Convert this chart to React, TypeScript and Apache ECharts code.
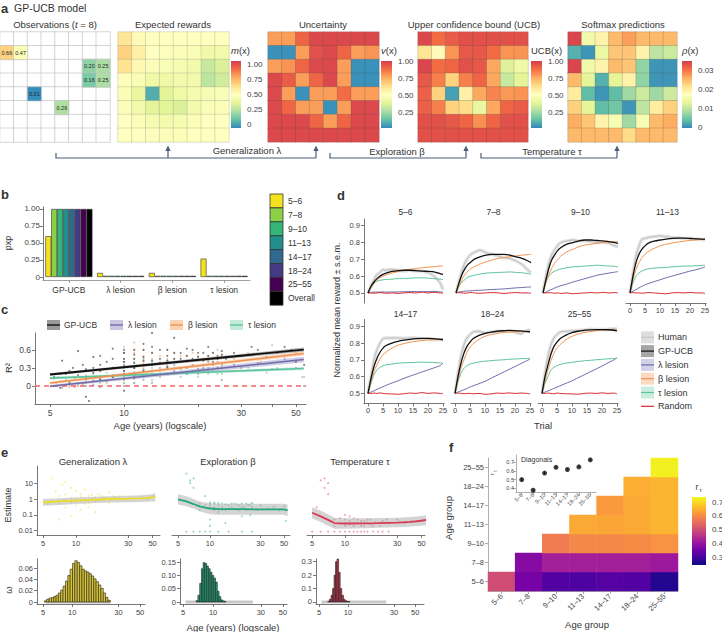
import React, { useEffect, useRef } from "react";
import * as echarts from "echarts";

const FONT = "Liberation Sans";
const INK = "#333";
const AXIS = "#555";

/* ---------------- panel a ---------------- */
const cellIds = ["0", "1", "2", "3", "4", "5", "6", "7"];
const observedCells = [
  [0, 1, 0.66], [1, 1, 0.47], [6, 2, 0.2], [7, 2, 0.25],
  [6, 3, 0.16], [7, 3, 0.25], [2, 4, 0.01], [4, 5, 0.26],
];
const expectedRewards = [
  [0.6, 0.52, 0.5, 0.5, 0.5, 0.5, 0.5, 0.5],
  [0.66, 0.56, 0.5, 0.49, 0.48, 0.47, 0.43, 0.44],
  [0.61, 0.53, 0.48, 0.47, 0.46, 0.44, 0.31, 0.35],
  [0.51, 0.47, 0.42, 0.43, 0.44, 0.44, 0.29, 0.33],
  [0.47, 0.4, 0.08, 0.37, 0.42, 0.45, 0.46, 0.47],
  [0.48, 0.44, 0.37, 0.37, 0.35, 0.44, 0.47, 0.48],
  [0.5, 0.48, 0.45, 0.44, 0.45, 0.48, 0.5, 0.5],
  [0.5, 0.5, 0.49, 0.48, 0.48, 0.5, 0.5, 0.5],
];
const uncertainty = [
  [0.78, 0.78, 0.9, 0.97, 0.97, 0.97, 0.97, 0.97],
  [0.02, 0.02, 0.78, 0.95, 0.97, 0.9, 0.78, 0.8],
  [0.78, 0.8, 0.9, 0.97, 0.97, 0.78, 0.02, 0.02],
  [0.97, 0.92, 0.78, 0.9, 0.97, 0.78, 0.02, 0.02],
  [0.97, 0.78, 0.02, 0.78, 0.78, 0.88, 0.78, 0.78],
  [0.97, 0.9, 0.78, 0.78, 0.02, 0.78, 0.97, 0.97],
  [0.97, 0.97, 0.97, 0.9, 0.78, 0.9, 0.97, 0.97],
  [0.97, 0.97, 0.97, 0.97, 0.97, 0.97, 0.97, 0.97],
];
const ucbValues = [
  [0.97, 0.88, 0.92, 0.95, 0.95, 0.95, 0.95, 0.95],
  [0.6, 0.52, 0.8, 0.93, 0.93, 0.88, 0.8, 0.8],
  [0.98, 0.88, 0.9, 0.95, 0.93, 0.76, 0.36, 0.42],
  [0.93, 0.84, 0.66, 0.84, 0.9, 0.76, 0.31, 0.38],
  [0.91, 0.66, 0.05, 0.56, 0.76, 0.83, 0.79, 0.8],
  [0.91, 0.84, 0.66, 0.63, 0.4, 0.76, 0.9, 0.92],
  [0.95, 0.95, 0.93, 0.9, 0.81, 0.9, 0.95, 0.95],
  [0.95, 0.95, 0.95, 0.95, 0.95, 0.95, 0.95, 0.95],
];
const softmaxValues = [
  [0.034, 0.015, 0.019, 0.025, 0.027, 0.025, 0.025, 0.025],
  [0.003, 0.001, 0.014, 0.024, 0.024, 0.019, 0.01, 0.011],
  [0.034, 0.015, 0.019, 0.025, 0.024, 0.007, 0.001, 0.001],
  [0.025, 0.013, 0.003, 0.013, 0.019, 0.007, 0.001, 0.001],
  [0.02, 0.004, 0.001, 0.004, 0.008, 0.011, 0.008, 0.011],
  [0.023, 0.013, 0.004, 0.005, 0.001, 0.01, 0.02, 0.023],
  [0.026, 0.024, 0.019, 0.016, 0.008, 0.016, 0.025, 0.026],
  [0.025, 0.025, 0.025, 0.025, 0.022, 0.025, 0.025, 0.025],
];
const mTicks = [0, 0.25, 0.5, 0.75, 1];
const vTicks = [0.25, 0.5, 0.75, 1];
const rhoTicks = [0, 0.01, 0.02, 0.03];

/* ---------------- panel b ---------------- */
const pxpModels = ["GP-UCB", "λ lesion", "β lesion", "τ lesion"];
const pxpGroups = ["5–6", "7–8", "9–10", "11–13", "14–17", "18–24", "25–55", "Overall"];
const pxpValues = [
  [0.6, 0.06, 0.06, 0.27],
  [1, 0, 0, 0],
  [1, 0, 0, 0],
  [1, 0, 0, 0],
  [1, 0, 0, 0],
  [1, 0, 0, 0],
  [1, 0, 0, 0],
  [1, 0, 0, 0],
];
const pxpTicks = [0, 0.25, 0.5, 0.75, 1];

/* ---------------- panel c ---------------- */
const cAgeLabels = [5, 10, 30, 50];
const cAgeTicks = [5, 10, 20, 30, 40, 50];
const cR2Ticks = [0, 0.3, 0.6];
const cFitAges = [5.0, 53.8];
const cFitGp = [0.19, 0.605];
const cFitGpSe = [0.022, 0.032];
const cFitLambda = [-0.005, 0.44];
const cFitLambdaSe = [0.02, 0.045];
const cFitBeta = [0.05, 0.54];
const cFitBetaSe = [0.02, 0.035];
const cFitTau = [0.13, 0.29];
const cFitTauSe = [0.018, 0.025];
const cPtsGp = [
  [5.2, 0.15], [5.5, -0.03], [5.6, 0.42], [5.8, 0.2], [6.0, 0.05], [6.2, 0.3], [6.5, 0.58], [6.5, 0.18],
  [6.8, 0.35], [7.0, -0.18], [7.0, 0.12], [7.0, 0.28], [7.2, -0.25], [7.5, 0.48], [7.5, 0.22], [8, 0.5],
  [8, 0.35], [8, 0.1], [8.5, 0.4], [9, 0.62], [9, 0.3], [9, 0.15], [10, 0.6], [10, 0.45], [10, 0.32],
  [10, 0.2], [10, -0.08], [11, 0.52], [11, 0.38], [11, 0.3], [11, 0.15], [12, 0.7], [12, 0.48], [12, 0.35],
  [12, 0.25], [13, 0.88], [13, 0.55], [13, 0.42], [14, 0.6], [14, 0.38], [15, 0.5], [15, 0.32], [16, 0.8],
  [16, 0.45], [17, 0.55], [18, 0.42], [19, 0.6], [20, 0.48], [21, 0.55], [22, 0.65], [23, 0.4], [24, 0.5],
  [25, 0.58], [26, 0.45], [28, 0.55], [30, 0.5], [33, 0.65], [35, 0.6], [38, 0.48], [42, 0.55], [45, 0.65],
  [48, 0.6], [50, 0.4], [54, 0.35],
  [10, 0.55], [10, 0.4], [10, 0.25], [11, 0.45], [11, 0.6], [12, 0.6], [12, 0.42], [13, 0.65], [13, 0.35],
  [14, 0.45], [15, 0.42], [15, 0.6], [16, 0.55], [17, 0.45], [18, 0.5], [18, 0.62], [19, 0.45], [20, 0.55],
  [21, 0.42], [22, 0.5], [23, 0.55], [24, 0.45], [25, 0.52], [7.5, 0.3], [8, 0.25], [9, 0.45], [6, 0.25], [5.5, 0.2],
];
const cPtsLambda = [
  [5.3, 0.0], [5.6, -0.03], [6, 0.02], [6.3, -0.02], [6.8, 0.05], [7, 0.0], [7.5, 0.08], [8, 0.12], [8, -0.02],
  [9, 0.15], [10, 0.25], [10, 0.1], [10, 0.0], [11, 0.3], [11, 0.12], [12, 0.35], [12, 0.18], [13, 0.25],
  [13, 0.05], [14, 0.3], [15, 0.2], [16, 0.35], [17, 0.22], [18, 0.3], [20, 0.28], [22, 0.4], [24, 0.3],
  [25, 0.1], [28, 0.35], [30, 0.3], [35, 0.38], [40, 0.28], [45, 0.45], [50, 0.3], [54, 0.0],
  [10, 0.35], [10, 0.18], [11, 0.22], [11, 0.05], [12, 0.28], [12, 0.1], [13, 0.35], [14, 0.2], [15, 0.3],
  [16, 0.25], [17, 0.3], [18, 0.2], [19, 0.35], [20, 0.2], [21, 0.3], [22, 0.25], [23, 0.35], [24, 0.4],
  [25, 0.3], [6.5, 0.01], [7.5, 0.02], [8.5, 0.08],
];
const cPtsBeta = [
  [5.3, 0.05], [5.5, 0.08], [6, -0.02], [6.3, 0.12], [6.8, 0.02], [7, 0.18], [7.5, 0.1], [8, 0.25], [8.5, 0.05],
  [9, 0.3], [10, 0.65], [10, 0.45], [10, 0.2], [10, 0.05], [11, 0.55], [11, 0.3], [12, 0.6], [12, 0.4],
  [13, 0.45], [13, 0.2], [14, 0.5], [15, 0.35], [16, 0.55], [17, 0.4], [18, 0.5], [20, 0.42], [22, 0.5],
  [24, 0.6], [25, 0.35], [28, 0.45], [32, 0.55], [36, 0.4], [40, 0.68], [45, 0.5], [50, 0.55], [54, 0.15],
  [10, 0.55], [10, 0.35], [11, 0.6], [11, 0.45], [11, 0.2], [12, 0.5], [12, 0.3], [13, 0.55], [13, 0.35],
  [14, 0.4], [15, 0.45], [15, 0.6], [16, 0.45], [17, 0.5], [18, 0.4], [19, 0.55], [20, 0.5], [21, 0.45],
  [22, 0.42], [23, 0.55], [24, 0.45], [25, 0.5], [7, 0.05], [6.5, 0.0], [8, 0.15],
];
const cPtsTau = [
  [5.2, 0.12], [5.4, 0.15], [5.8, 0.1], [6, 0.08], [6.5, 0.05], [7, 0.15], [7.5, 0.2], [8, 0.12], [8.5, 0.22],
  [9, 0.18], [10, 0.55], [10, 0.3], [10, 0.15], [11, 0.72], [11, 0.4], [11, 0.2], [12, 0.35], [12, 0.15],
  [13, 0.3], [13, 0.1], [14, 0.25], [15, 0.3], [16, 0.2], [17, 0.28], [18, 0.3], [20, 0.25], [22, 0.3],
  [24, 0.2], [25, 0.35], [28, 0.25], [32, 0.3], [38, 0.22], [42, 0.3], [48, 0.28], [53, 0.15],
  [10, 0.4], [10, 0.05], [11, 0.3], [11, 0.05], [12, 0.25], [12, 0.45], [13, 0.2], [13, 0.4], [14, 0.15],
  [15, 0.2], [15, 0.4], [16, 0.3], [17, 0.15], [18, 0.2], [19, 0.25], [20, 0.15], [21, 0.35], [22, 0.2],
  [23, 0.25], [24, 0.3], [25, 0.2], [7, 0.1], [8, 0.05],
];

/* ---------------- panel d ---------------- */
const dPanels = ["5–6", "7–8", "9–10", "11–13", "14–17", "18–24", "25–55"];
const dTrials = [0, 1, 2, 3, 4, 5, 6, 8, 10, 12, 14, 16, 18, 20, 22, 24, 25];
const dTrialTicks = [0, 5, 10, 15, 20, 25];
const dRewardTicks = [0.5, 0.6, 0.7, 0.8, 0.9];
const dHuman = [
  [0.5, 0.54, 0.58, 0.61, 0.62, 0.64, 0.635, 0.64, 0.635, 0.63, 0.635, 0.63, 0.63, 0.62, 0.6, 0.56, 0.52],
  [0.5, 0.57, 0.63, 0.68, 0.71, 0.73, 0.74, 0.755, 0.74, 0.73, 0.72, 0.71, 0.705, 0.69, 0.67, 0.635, 0.62],
  [0.5, 0.6, 0.68, 0.73, 0.76, 0.785, 0.8, 0.81, 0.815, 0.81, 0.81, 0.805, 0.8, 0.8, 0.795, 0.78, 0.775],
  [0.5, 0.62, 0.72, 0.78, 0.82, 0.825, 0.83, 0.835, 0.84, 0.835, 0.83, 0.828, 0.825, 0.825, 0.822, 0.818, 0.815],
  [0.5, 0.6, 0.7, 0.76, 0.8, 0.825, 0.83, 0.83, 0.83, 0.828, 0.83, 0.83, 0.825, 0.825, 0.82, 0.82, 0.82],
  [0.5, 0.62, 0.72, 0.79, 0.83, 0.85, 0.865, 0.87, 0.86, 0.865, 0.87, 0.87, 0.87, 0.865, 0.855, 0.875, 0.88],
  [0.5, 0.62, 0.72, 0.79, 0.83, 0.85, 0.865, 0.87, 0.872, 0.875, 0.878, 0.882, 0.88, 0.88, 0.882, 0.885, 0.885],
];
const dGpUcb = [
  [0.5, 0.54, 0.565, 0.585, 0.6, 0.61, 0.618, 0.628, 0.633, 0.635, 0.635, 0.633, 0.63, 0.628, 0.625, 0.615, 0.61],
  [0.5, 0.56, 0.61, 0.645, 0.67, 0.685, 0.7, 0.715, 0.725, 0.73, 0.73, 0.73, 0.725, 0.715, 0.705, 0.69, 0.68],
  [0.5, 0.58, 0.65, 0.7, 0.73, 0.755, 0.77, 0.79, 0.8, 0.81, 0.815, 0.815, 0.812, 0.81, 0.805, 0.8, 0.795],
  [0.5, 0.6, 0.68, 0.73, 0.76, 0.78, 0.795, 0.808, 0.815, 0.82, 0.825, 0.826, 0.826, 0.824, 0.822, 0.82, 0.82],
  [0.5, 0.59, 0.66, 0.71, 0.745, 0.77, 0.785, 0.8, 0.81, 0.817, 0.822, 0.826, 0.828, 0.828, 0.826, 0.822, 0.82],
  [0.5, 0.6, 0.68, 0.74, 0.78, 0.805, 0.825, 0.845, 0.858, 0.865, 0.87, 0.873, 0.875, 0.874, 0.872, 0.868, 0.866],
  [0.5, 0.6, 0.67, 0.735, 0.78, 0.805, 0.825, 0.847, 0.862, 0.87, 0.875, 0.878, 0.88, 0.88, 0.879, 0.876, 0.872],
];
const dBeta = [
  [0.5, 0.53, 0.555, 0.575, 0.59, 0.6, 0.607, 0.618, 0.627, 0.635, 0.64, 0.645, 0.65, 0.653, 0.656, 0.66, 0.66],
  [0.5, 0.54, 0.58, 0.61, 0.63, 0.645, 0.655, 0.672, 0.685, 0.695, 0.705, 0.71, 0.715, 0.72, 0.725, 0.728, 0.73],
  [0.5, 0.56, 0.61, 0.65, 0.68, 0.7, 0.72, 0.745, 0.76, 0.775, 0.785, 0.79, 0.795, 0.8, 0.802, 0.805, 0.805],
  [0.5, 0.58, 0.64, 0.68, 0.71, 0.73, 0.745, 0.765, 0.78, 0.79, 0.797, 0.803, 0.808, 0.812, 0.815, 0.818, 0.82],
  [0.5, 0.57, 0.63, 0.67, 0.705, 0.73, 0.745, 0.77, 0.787, 0.797, 0.805, 0.81, 0.815, 0.818, 0.82, 0.823, 0.825],
  [0.5, 0.58, 0.65, 0.7, 0.745, 0.775, 0.795, 0.822, 0.84, 0.85, 0.857, 0.862, 0.865, 0.867, 0.868, 0.869, 0.87],
  [0.5, 0.57, 0.64, 0.695, 0.74, 0.77, 0.79, 0.82, 0.84, 0.853, 0.862, 0.868, 0.873, 0.876, 0.878, 0.88, 0.88],
];
const dTau = [
  [0.5, 0.54, 0.56, 0.57, 0.575, 0.578, 0.58, 0.582, 0.585, 0.585, 0.587, 0.59, 0.59, 0.588, 0.585, 0.582, 0.58],
  [0.5, 0.54, 0.565, 0.58, 0.595, 0.6, 0.605, 0.612, 0.618, 0.62, 0.622, 0.623, 0.625, 0.622, 0.62, 0.615, 0.61],
  [0.5, 0.57, 0.6, 0.62, 0.63, 0.638, 0.643, 0.65, 0.655, 0.657, 0.66, 0.662, 0.665, 0.662, 0.66, 0.658, 0.655],
  [0.5, 0.56, 0.6, 0.62, 0.63, 0.638, 0.643, 0.648, 0.65, 0.652, 0.655, 0.657, 0.66, 0.66, 0.662, 0.664, 0.665],
  [0.5, 0.56, 0.61, 0.64, 0.655, 0.665, 0.67, 0.675, 0.68, 0.682, 0.684, 0.685, 0.686, 0.685, 0.684, 0.682, 0.68],
  [0.5, 0.57, 0.62, 0.65, 0.665, 0.675, 0.68, 0.687, 0.692, 0.695, 0.698, 0.7, 0.703, 0.705, 0.707, 0.708, 0.71],
  [0.5, 0.56, 0.6, 0.64, 0.655, 0.665, 0.672, 0.68, 0.685, 0.69, 0.694, 0.697, 0.7, 0.703, 0.706, 0.708, 0.71],
];
const dLambda = [
  [0.5, 0.503, 0.505, 0.505, 0.505, 0.506, 0.505, 0.505, 0.506, 0.507, 0.508, 0.508, 0.507, 0.508, 0.508, 0.506, 0.505],
  [0.5, 0.505, 0.508, 0.51, 0.512, 0.513, 0.514, 0.516, 0.518, 0.52, 0.522, 0.524, 0.527, 0.53, 0.532, 0.535, 0.535],
  [0.5, 0.505, 0.515, 0.522, 0.53, 0.537, 0.543, 0.553, 0.565, 0.575, 0.585, 0.595, 0.605, 0.612, 0.618, 0.624, 0.627],
  [0.5, 0.51, 0.52, 0.53, 0.54, 0.548, 0.555, 0.567, 0.578, 0.59, 0.6, 0.61, 0.62, 0.63, 0.638, 0.648, 0.655],
  [0.5, 0.508, 0.515, 0.525, 0.532, 0.54, 0.548, 0.562, 0.575, 0.59, 0.603, 0.615, 0.628, 0.64, 0.652, 0.665, 0.68],
  [0.5, 0.508, 0.515, 0.522, 0.53, 0.538, 0.545, 0.558, 0.572, 0.59, 0.608, 0.625, 0.643, 0.66, 0.678, 0.695, 0.705],
  [0.5, 0.508, 0.515, 0.522, 0.53, 0.538, 0.545, 0.56, 0.575, 0.593, 0.61, 0.628, 0.645, 0.663, 0.682, 0.7, 0.712],
];
const dRandom = [
  [0.5, 0.5, 0.498, 0.5, 0.502, 0.5, 0.498, 0.5, 0.497, 0.5, 0.502, 0.5, 0.505, 0.5, 0.503, 0.5, 0.498],
  [0.5, 0.502, 0.5, 0.498, 0.5, 0.503, 0.5, 0.498, 0.5, 0.502, 0.5, 0.497, 0.5, 0.502, 0.5, 0.5, 0.498],
  [0.5, 0.5, 0.502, 0.5, 0.498, 0.5, 0.497, 0.5, 0.495, 0.498, 0.5, 0.502, 0.5, 0.503, 0.5, 0.502, 0.5],
  [0.5, 0.502, 0.5, 0.5, 0.498, 0.5, 0.502, 0.5, 0.497, 0.495, 0.5, 0.502, 0.5, 0.503, 0.5, 0.5, 0.497],
  [0.5, 0.5, 0.502, 0.5, 0.503, 0.5, 0.498, 0.497, 0.495, 0.498, 0.502, 0.5, 0.505, 0.5, 0.503, 0.5, 0.498],
  [0.5, 0.502, 0.5, 0.498, 0.5, 0.5, 0.498, 0.5, 0.495, 0.497, 0.502, 0.5, 0.503, 0.5, 0.502, 0.5, 0.497],
  [0.5, 0.5, 0.502, 0.5, 0.498, 0.502, 0.5, 0.498, 0.497, 0.495, 0.5, 0.502, 0.5, 0.503, 0.5, 0.502, 0.498],
];

/* ---------------- panel e ---------------- */
const eAgeLabels = [5, 10, 30, 50];
const eEstTicks = [0.01, 0.1, 1, 10];
const eLambdaAges = [5, 7, 10, 15, 20, 30, 40, 50, 53];
const eLambdaFit = [0.6, 0.7, 0.8, 0.9, 1.0, 1.05, 1.1, 1.25, 1.4];
const eLambdaLo = [0.38, 0.42, 0.48, 0.55, 0.6, 0.62, 0.65, 0.7, 0.7];
const eLambdaHi = [1.0, 1.1, 1.25, 1.4, 1.5, 1.6, 1.7, 2.0, 2.3];
const eBetaAges = [5, 6, 7, 8, 9, 10, 12, 15, 20, 30, 40, 50, 54];
const eBetaFit = [0.95, 0.7, 0.48, 0.34, 0.28, 0.25, 0.23, 0.23, 0.23, 0.22, 0.22, 0.22, 0.19];
const eBetaLo = [0.45, 0.35, 0.25, 0.17, 0.13, 0.11, 0.1, 0.1, 0.1, 0.1, 0.1, 0.1, 0.08];
const eBetaHi = [2.0, 1.5, 1.0, 0.7, 0.6, 0.55, 0.5, 0.5, 0.5, 0.5, 0.5, 0.5, 0.45];
const eTauAges = [5, 6, 7, 8, 10, 15, 20, 30, 40, 50, 55];
const eTauFit = [0.135, 0.08, 0.048, 0.03, 0.028, 0.029, 0.03, 0.032, 0.036, 0.042, 0.047];
const eTauLo = [0.06, 0.035, 0.02, 0.013, 0.013, 0.014, 0.015, 0.016, 0.018, 0.02, 0.022];
const eTauHi = [0.3, 0.18, 0.11, 0.065, 0.06, 0.06, 0.062, 0.065, 0.072, 0.085, 0.095];
const ePtsLambda = [
  [6, 20], [6.5, 3], [7, 0.05], [7, 1.5], [7.5, 8], [8, 0.3], [8, 2], [9, 0.6], [9, 5], [10, 1], [10, 0.4],
  [10, 3], [11, 0.8], [11, 2], [11, 0.2], [12, 1], [12, 0.5], [13, 1.5], [13, 0.3], [14, 1], [15, 0.7],
  [16, 2], [17, 0.9], [18, 1.2], [20, 0.6], [22, 1.5], [25, 1], [27, 0.8], [30, 1.2], [35, 1.1], [40, 1.3],
  [45, 0.9], [50, 1.5], [6, 0.8], [5.5, 0.5], [8, 12], [9, 0.08], [12, 4], [15, 0.15], [20, 2.5],
  [10, 0.7], [11, 1.3], [12, 0.8], [13, 0.6], [14, 1.8], [15, 1.2], [16, 0.8], [17, 1.5], [18, 0.7],
  [19, 1.1], [21, 0.9], [23, 1.2], [24, 0.7], [25, 1.6], [7, 0.6], [8, 0.9], [9, 1.2],
];
const ePtsBeta = [
  [6, 40], [6.5, 10], [6.5, 15], [7, 20], [7, 5], [6, 0.0085], [7, 0.0085], [8, 0.0085], [9, 0.0085],
  [10, 0.0085], [12, 0.0085], [15, 0.0085], [20, 0.0085], [25, 0.0085], [8, 0.5], [8, 0.2], [9, 0.4],
  [9, 1.5], [10, 0.3], [10, 0.6], [10, 0.05], [11, 0.3], [11, 0.5], [12, 0.25], [12, 0.4], [13, 0.3],
  [13, 0.5], [14, 0.2], [15, 0.4], [16, 0.3], [17, 0.5], [18, 0.2], [19, 0.4], [20, 0.3], [22, 0.5],
  [24, 0.1], [25, 0.3], [28, 0.2], [30, 0.4], [35, 0.25], [40, 0.3], [45, 0.2], [50, 0.35], [52, 0.04],
  [10, 0.02], [14, 0.03], [20, 0.08],
  [10, 0.45], [11, 0.2], [11, 0.6], [12, 0.55], [12, 0.15], [13, 0.2], [14, 0.45], [15, 0.25], [16, 0.5],
  [17, 0.25], [18, 0.45], [19, 0.2], [20, 0.5], [21, 0.3], [22, 0.2], [23, 0.4], [24, 0.45], [25, 0.55],
];
const ePtsTau = [
  [6, 15], [6.5, 20], [6.5, 5], [7, 10], [7, 2], [5, 0.0085], [6, 0.0085], [7, 0.0085], [8, 0.0085],
  [9, 0.0085], [10, 0.0085], [11, 0.0085], [12, 0.0085], [13, 0.0085], [14, 0.0085], [15, 0.0085],
  [16, 0.0085], [18, 0.0085], [20, 0.0085], [22, 0.0085], [25, 0.0085], [8, 0.05], [9, 0.03], [10, 0.05],
  [10, 0.1], [11, 0.04], [11, 0.08], [12, 0.03], [12, 0.06], [13, 0.05], [14, 0.02], [15, 0.04], [16, 0.03],
  [17, 0.05], [18, 0.02], [20, 0.03], [22, 0.04], [25, 0.03], [30, 0.05], [35, 0.03], [40, 0.04], [50, 0.05],
  [5.5, 0.3],
  [10, 0.02], [10, 0.03], [11, 0.025], [12, 0.02], [13, 0.03], [14, 0.04], [15, 0.02], [16, 0.05],
  [17, 0.025], [19, 0.035], [21, 0.02], [23, 0.03], [24, 0.05], [9, 0.06], [8, 0.02],
];
const histLambdaAges = [5.3, 5.6, 5.95, 6.3, 6.65, 7.0, 7.4, 7.8, 8.3, 8.75, 9.25, 9.8, 10.35, 10.95, 11.6, 12.25, 12.95, 13.7, 14.5, 15.35, 16.2, 17.15, 18.1, 19.2, 20.3, 21.5, 22.7, 24.0];
const histLambda = [0.002, 0.005, 0.007, 0.008, 0.01, 0.012, 0.016, 0.021, 0.028, 0.037, 0.047, 0.058, 0.068, 0.073, 0.07, 0.064, 0.058, 0.055, 0.053, 0.05, 0.046, 0.041, 0.036, 0.03, 0.024, 0.016, 0.008, 0.003];
const histBetaAges = [6.9, 7.2, 7.5, 7.8, 8.1, 8.45, 8.8, 9.15, 9.55, 9.95, 10.35, 10.8, 11.25, 11.7, 12.2, 12.7, 13.2];
const histBeta = [0.005, 0.025, 0.07, 0.125, 0.148, 0.145, 0.135, 0.125, 0.112, 0.1, 0.09, 0.075, 0.04, 0.02, 0.008, 0.004, 0.002];
const histTauAges = [6.3, 6.55, 6.8, 7.05, 7.3, 7.55, 7.85, 8.15, 8.45, 8.8, 9.15, 9.5, 9.9, 10.3];
const histTau = [0.005, 0.02, 0.05, 0.1, 0.2, 0.3, 0.32, 0.22, 0.1, 0.05, 0.02, 0.01, 0.004, 0.002];
const histBaseAges = [5.3, 25];
const histLambdaTicks = [0, 0.02, 0.04, 0.06];
const histBetaTicks = [0, 0.05, 0.1, 0.15];
const histTauTicks = [0, 0.1, 0.2, 0.3];

/* ---------------- panel f ---------------- */
const ageGroups = ["5–6", "7–8", "9–10", "11–13", "14–17", "18–24", "25–55"];
// row = y age group; values start at the column of the same age group
const fRows = [
  [0.5, 0.36, 0.315, 0.31, 0.32, 0.315, 0.265],
  [0.38, 0.42, 0.42, 0.42, 0.42, 0.41],
  [0.575, 0.595, 0.595, 0.6, 0.61],
  [0.64, 0.635, 0.64, 0.655],
  [0.62, 0.64, 0.655],
  [0.645, 0.655],
  [0.725],
];
const fDiag = [0.5, 0.38, 0.575, 0.64, 0.615, 0.645, 0.725];
const fDiagSe = [0.02, 0.015, 0.015, 0.01, 0.01, 0.01, 0.015];
const fBarTicks = [0.3, 0.4, 0.5, 0.6, 0.7];
const fInsetTicks = [0.4, 0.5, 0.6, 0.7];

/* ---------------- styles ---------------- */
const SPECTRAL = ["#3288bd", "#66c2a5", "#abdda4", "#e6f598", "#ffffbf", "#fee08b", "#fdae61", "#f46d43", "#d53e4f"];
const PLASMA = ["#0d0887", "#46039f", "#7201a8", "#9c179e", "#bd3786", "#d8576b", "#ed7953", "#fb9f3a", "#fdca26", "#f0f921"];
const GROUP_COLORS = ["#f3e21d", "#8ad146", "#34b679", "#21908c", "#30698e", "#443b84", "#440154", "#000000"];
const C_GP = "#111";
const C_LAM = "#6f6aaa";
const C_BETA = "#f0924f";
const C_TAU = "#5cc49a";
const C_RAND = "#d9282f";

const L = (v: number) => Math.log10(v);

function buildOption() {
  const grid: any[] = [];
  const xAxis: any[] = [];
  const yAxis: any[] = [];
  const series: any[] = [];
  const graphic: any[] = [];

  const addGrid = (left: number, top: number, width: number, height: number) => {
    grid.push({ left, top, width, height, containLabel: false, outerBoundsMode: "none" });
    return grid.length - 1;
  };
  const valAxis = (gi: number, min: number, max: number, labels: number[], fmt: any, o: any = {}) => ({
    type: "value",
    gridIndex: gi,
    min,
    max,
    show: o.show !== false,
    splitLine: { show: false },
    axisLine: { show: true, onZero: false, lineStyle: { color: o.lineColor || AXIS, width: 0.8 } },
    axisTick: { show: true, length: 3, customValues: o.ticks || labels, lineStyle: { color: o.lineColor || AXIS, width: 0.8 } },
    axisLabel: {
      show: true, customValues: labels, formatter: fmt, fontSize: o.fontSize || 7.5,
      color: "#444", fontFamily: FONT, margin: o.margin ?? 3,
    },
  });
  const hiddenCat = (gi: number, inverse = false) => ({
    type: "category", gridIndex: gi, data: cellIds, show: false, inverse,
  });
  const lineS = (gi: number, data: any[], color: string, width: number, o: any = {}) => ({
    type: "line", xAxisIndex: gi, yAxisIndex: gi, data, symbol: "none", silent: true,
    lineStyle: { color, width, type: o.dash || "solid" }, itemStyle: { color },
    smooth: o.smooth ?? false, z: o.z ?? 4,
  });
  const scatterS = (gi: number, data: any[], color: string, size: number, z = 2) => ({
    type: "scatter", xAxisIndex: gi, yAxisIndex: gi, data, symbolSize: size,
    itemStyle: { color }, silent: true, z,
  });
  const bandS = (gi: number, xs: number[], lo: number[], hi: number[], color: string, z = 3) => ({
    type: "custom", xAxisIndex: gi, yAxisIndex: gi, silent: true, z,
    data: xs.map((x, i) => [x, lo[i], hi[i]]),
    renderItem: (params: any, api: any) => {
      if (params.dataIndex !== 0) return null;
      const pts: number[][] = [];
      xs.forEach((x, i) => pts.push(api.coord([x, hi[i]])));
      for (let i = xs.length - 1; i >= 0; i--) pts.push(api.coord([xs[i], lo[i]]));
      return { type: "polygon", shape: { points: pts }, style: { fill: color } };
    },
  });
  const histS = (gi: number, ages: number[], heights: number[], color: string) => {
    const lg = ages.map(L);
    const data = lg.map((c, i) => {
      const left = i > 0 ? (c + lg[i - 1]) / 2 : c - (lg[1] - lg[0]) / 2;
      const right = i < lg.length - 1 ? (c + lg[i + 1]) / 2 : c + (lg[i] - lg[i - 1]) / 2;
      return [left, right, heights[i]];
    });
    return {
      type: "custom", xAxisIndex: gi, yAxisIndex: gi, silent: true, z: 3, data,
      renderItem: (params: any, api: any) => {
        const p1 = api.coord([api.value(0), api.value(2)]);
        const p2 = api.coord([api.value(1), 0]);
        return {
          type: "rect",
          shape: { x: p1[0], y: p1[1], width: p2[0] - p1[0], height: p2[1] - p1[1] },
          style: { fill: color, stroke: "#222", lineWidth: 0.6 },
        };
      },
    };
  };

  // ---------- graphic helpers ----------
  const T = (x: number, y: number, text: string, o: any = {}) => {
    graphic.push({
      type: "text", x, y, rotation: o.rot || 0, silent: true, z: 50,
      style: {
        text, fontSize: o.size || 9, fontFamily: FONT, fontWeight: o.bold ? "bold" : "normal",
        fontStyle: o.italic ? "italic" : "normal",
        fill: o.color || INK, align: o.align || "left", verticalAlign: "middle",
        textAlign: o.align || "left", textVerticalAlign: "middle", rich: o.rich,
      },
    });
  };
  const R = (x: number, y: number, w: number, h: number, fill: any, stroke?: string, lw = 0.8) => {
    graphic.push({ type: "rect", silent: true, z: 40, shape: { x, y, width: w, height: h }, style: { fill, stroke, lineWidth: stroke ? lw : 0 } });
  };
  const Ln = (x1: number, y1: number, x2: number, y2: number, stroke: string, lw = 1) => {
    graphic.push({ type: "line", silent: true, z: 40, shape: { x1, y1, x2, y2 }, style: { stroke, lineWidth: lw } });
  };
  const gradient = (colors: string[]) =>
    new echarts.graphic.LinearGradient(0, 1, 0, 0, colors.map((c, i) => ({ offset: i / (colors.length - 1), color: c })));

  /* ================= panel a ================= */
  const aBoxes = [[0, 32, 110, 110], [118, 32, 111, 110], [268, 32, 111, 110], [418, 32, 110, 110], [568, 32, 109, 110]];
  const aGi = aBoxes.map((b) => {
    const gi = addGrid(b[0], b[1], b[2], b[3]);
    xAxis.push(hiddenCat(gi));
    yAxis.push(hiddenCat(gi, true));
    return gi;
  });
  const cellsOf = (rows: number[][]) => rows.flatMap((r, ri) => r.map((v, ci) => [ci, ri, v]));
  const hm = (gi: number, data: any[], o: any = {}) => ({
    type: "heatmap", xAxisIndex: gi, yAxisIndex: gi, data, silent: true, progressive: 0,
    itemStyle: { borderColor: "rgba(70,70,70,0.4)", borderWidth: 0.5, ...(o.itemStyle || {}) },
    label: o.label || { show: false }, emphasis: { disabled: true },
  });
  const bgSeries = [series.length];
  series.push(hm(aGi[0], cellIds.flatMap((_, r) => cellIds.map((__, c) => [c, r, 0])), {
    itemStyle: { borderColor: "#c4c4c4", borderWidth: 0.7 },
  }));
  const vm0Series: number[] = [];
  vm0Series.push(series.length);
  series.push(hm(aGi[0], observedCells, {
    itemStyle: { borderColor: "#c4c4c4", borderWidth: 0.7 },
    label: { show: true, fontSize: 5.5, color: "#222", fontFamily: FONT, formatter: (p: any) => Number(p.value[2]).toFixed(2) },
  }));
  vm0Series.push(series.length);
  series.push(hm(aGi[1], cellsOf(expectedRewards), { itemStyle: { borderColor: "rgba(120,120,120,0.45)" } }));
  vm0Series.push(series.length);
  series.push(hm(aGi[2], cellsOf(uncertainty)));
  vm0Series.push(series.length);
  series.push(hm(aGi[3], cellsOf(ucbValues)));
  const vm1Series = [series.length];
  series.push(hm(aGi[4], cellsOf(softmaxValues)));

  T(1, 8, "a", { bold: true, size: 13 });
  T(14, 8, "GP-UCB model", { size: 10.5 });
  const titleRich = { i: { fontStyle: "italic", fontSize: 9.5, fontFamily: FONT, fill: INK } };
  T(55, 24, "Observations ({i|t} = 8)", { size: 9.5, align: "center", rich: titleRich });
  T(173, 24, "Expected rewards", { size: 9.5, align: "center" });
  T(323, 24, "Uncertainty", { size: 9.5, align: "center" });
  T(474, 24, "Upper confidence bound (UCB)", { size: 9.5, align: "center" });
  T(623, 24, "Softmax predictions", { size: 9.5, align: "center" });
  const cbRich = { i: { fontStyle: "italic", fontSize: 9.5, fontFamily: FONT, fill: INK } };
  T(231, 50, "{i|m}(x)", { size: 9.5, rich: cbRich });
  T(381, 50, "{i|v}(x)", { size: 9.5, rich: cbRich });
  T(531, 50, "UCB(x)", { size: 9.5 });
  T(682, 50, "{i|ρ}(x)", { size: 9.5, rich: cbRich });
  R(231, 61, 10, 67, gradient(SPECTRAL));
  R(381, 61, 11, 67, gradient(SPECTRAL));
  R(531, 61, 11, 67, gradient(SPECTRAL));
  R(682, 61, 10, 67, gradient(SPECTRAL));
  mTicks.forEach((v) => T(247, 124.7 - v * 60.7, v === 0 ? "0" : v.toFixed(2), { size: 8, color: "#444" }));
  vTicks.forEach((v) => T(398, 129 - v * 68, v.toFixed(2), { size: 8, color: "#444" }));
  vTicks.forEach((v) => T(548, 129 - v * 68, v.toFixed(2), { size: 8, color: "#444" }));
  rhoTicks.forEach((v) => T(698, 127.3 - v * 1910, v === 0 ? "0" : v.toFixed(2), { size: 8, color: "#444" }));

  const BR = "#4b5d78";
  const arrowUp = (x: number) => {
    Ln(x, 158, x, 150, BR, 1.2);
    graphic.push({ type: "polygon", silent: true, z: 40, shape: { points: [[x - 2.6, 151], [x + 2.6, 151], [x, 145.5]] }, style: { fill: BR } });
  };
  graphic.push({ type: "polyline", silent: true, z: 40, shape: { points: [[56, 153], [56, 158], [316, 158]] }, style: { stroke: BR, lineWidth: 1.2, fill: "none" } });
  arrowUp(168);
  arrowUp(316);
  graphic.push({ type: "polyline", silent: true, z: 40, shape: { points: [[330, 153], [330, 158], [466, 158]] }, style: { stroke: BR, lineWidth: 1.2, fill: "none" } });
  arrowUp(466);
  graphic.push({ type: "polyline", silent: true, z: 40, shape: { points: [[481, 153], [481, 158], [617, 158]] }, style: { stroke: BR, lineWidth: 1.2, fill: "none" } });
  arrowUp(617);
  T(247, 150, "Generalization λ", { size: 9.5, align: "center" });
  T(397, 151, "Exploration β", { size: 9.5, align: "center" });
  T(552, 151, "Temperature τ", { size: 9.5, align: "center" });

  /* ================= panel b ================= */
  const bGi = addGrid(43, 207, 207, 73);
  xAxis.push({
    type: "category", gridIndex: bGi, data: pxpModels,
    axisLine: { show: true, onZero: false, lineStyle: { color: "#888", width: 0.8 } },
    axisTick: { show: true, alignWithLabel: true, length: 3, lineStyle: { color: "#888", width: 0.8 } },
    axisLabel: { fontSize: 8.5, color: INK, fontFamily: FONT, margin: 5 },
    splitLine: { show: false },
  });
  yAxis.push(valAxis(bGi, -0.044, 1.029, pxpTicks, (v: number) => (v === 0 ? "0" : v.toFixed(2)), { fontSize: 8 }));
  pxpGroups.forEach((g, i) => {
    series.push({
      type: "bar", name: g, xAxisIndex: bGi, yAxisIndex: bGi, data: pxpValues[i], silent: true,
      barGap: "0%", barCategoryGap: "9%", barMinHeight: 1.2,
      itemStyle: { color: GROUP_COLORS[i], borderColor: "#333", borderWidth: 0.6 },
    });
  });
  T(1, 194, "b", { bold: true, size: 13 });
  T(8, 243, "pxp", { size: 9, rot: Math.PI / 2, align: "center" });
  pxpGroups.forEach((g, i) => {
    const top = 194 + i * 13.9;
    R(270, top, 13, 13.9, GROUP_COLORS[i], "#333", 0.8);
    T(288, top + 7, g, { size: 8.5 });
  });

  /* ================= panel c ================= */
  const cGi = addGrid(35, 333, 271, 71);
  xAxis.push(valAxis(cGi, 0.638, 1.74, cAgeLabels.map(L), (v: number) => String(Math.round(10 ** v)), { ticks: cAgeTicks.map(L), fontSize: 8.5, margin: 4 }));
  yAxis.push(valAxis(cGi, -0.3, 0.88, cR2Ticks, (v: number) => (v === 0 ? "0" : String(v)), { fontSize: 8.5, margin: 4 }));
  const lp = (pts: number[][]) => pts.map((p) => [L(p[0]), p[1]]);
  series.push(scatterS(cGi, lp(cPtsLambda), "rgba(111,106,170,0.65)", 2.2));
  series.push(scatterS(cGi, lp(cPtsBeta), "rgba(240,146,79,0.65)", 2.2));
  series.push(scatterS(cGi, lp(cPtsTau), "rgba(92,196,154,0.65)", 2.2));
  series.push(scatterS(cGi, lp(cPtsGp), "rgba(20,20,20,0.65)", 2.2));
  series.push(lineS(cGi, [[0.638, 0], [1.74, 0]], "#f26464", 1.5, { dash: [5, 4], z: 3 }));
  const cx = cFitAges.map(L);
  const fitBand = (fit: number[], se: number[], color: string) =>
    bandS(cGi, cx, fit.map((v, i) => v - se[i]), fit.map((v, i) => v + se[i]), color);
  series.push(fitBand(cFitTau, cFitTauSe, "rgba(92,196,154,0.35)"));
  series.push(fitBand(cFitLambda, cFitLambdaSe, "rgba(111,106,170,0.35)"));
  series.push(fitBand(cFitBeta, cFitBetaSe, "rgba(240,146,79,0.35)"));
  series.push(fitBand(cFitGp, cFitGpSe, "rgba(90,90,90,0.45)"));
  const fitLine = (fit: number[]) => cx.map((x, i) => [x, fit[i]]);
  series.push(lineS(cGi, fitLine(cFitTau), C_TAU, 1.6));
  series.push(lineS(cGi, fitLine(cFitLambda), C_LAM, 1.6));
  series.push(lineS(cGi, fitLine(cFitBeta), C_BETA, 1.6));
  series.push(lineS(cGi, fitLine(cFitGp), C_GP, 1.8));
  T(1, 309, "c", { bold: true, size: 13 });
  T(8, 368, "R²", { size: 9.5, rot: Math.PI / 2, align: "center" });
  T(160, 425, "Age (years) (logscale)", { size: 9.5, align: "center" });
  const cLeg = [
    [47, "GP-UCB", "#9a9a9a", C_GP, 64],
    [110, "λ lesion", "#c9c7e2", C_LAM, 128],
    [170, "β lesion", "#fbd3b3", C_BETA, 188],
    [230, "τ lesion", "#c3eadb", C_TAU, 248],
  ];
  cLeg.forEach((l: any) => {
    R(l[0], 320, 13, 10, l[2]);
    Ln(l[0], 325, l[0] + 13, 325, l[3], 1.4);
    T(l[4], 325, l[1], { size: 8.5 });
  });

  /* ================= panel d ================= */
  const dTopLefts = [364, 452, 539, 626];
  const dBotLefts = [364, 451, 538];
  dPanels.forEach((name, p) => {
    const row = p < 4 ? 0 : 1;
    const col = row === 0 ? p : p - 4;
    const left = row === 0 ? dTopLefts[col] : dBotLefts[col];
    const top = row === 0 ? 219 : 319.5;
    const gi = addGrid(left, top, 80, 84);
    const showX = row === 1 || p === 3;
    const showY = col === 0;
    xAxis.push(valAxis(gi, -1.33, 25.33, dTrialTicks, (v: number) => String(v), { show: showX, margin: 3 }));
    yAxis.push(valAxis(gi, 0.44, 0.94, dRewardTicks, (v: number) => v.toFixed(1), { show: showY, margin: 4 }));
    const pts = (arr: number[]) => dTrials.map((t, i) => [t, arr[i]]);
    series.push(lineS(gi, pts(dHuman[p]), "#e4e4e4", 3.5, { z: 3, smooth: 0.2 }));
    series.push(lineS(gi, pts(dHuman[p]), "#bdbdbd", 1, { z: 4, smooth: 0.2 }));
    series.push(lineS(gi, pts(dLambda[p]), C_LAM, 1, { smooth: 0.2 }));
    series.push(lineS(gi, pts(dTau[p]), C_TAU, 1, { smooth: 0.2 }));
    series.push(lineS(gi, pts(dBeta[p]), C_BETA, 1, { smooth: 0.2 }));
    series.push(lineS(gi, pts(dRandom[p]), C_RAND, 1, { smooth: 0.2 }));
    series.push(lineS(gi, pts(dGpUcb[p]), C_GP, 1.3, { z: 5, smooth: 0.2 }));
    T(left + 41.5, row === 0 ? 212 : 314, name, { size: 8.5, align: "center" });
  });
  T(337, 195, "d", { bold: true, size: 13 });
  T(337, 310, "Normalized mean reward ± s.e.m.", { size: 9, rot: Math.PI / 2, align: "center" });
  T(543, 425, "Trial", { size: 9.5, align: "center" });
  const dLeg = [
    ["Human", "#dedede", "#c4c4c4"],
    ["GP-UCB", "#a5a5a5", C_GP],
    ["λ lesion", "#d3d1e8", C_LAM],
    ["β lesion", "#fbdac2", C_BETA],
    ["τ lesion", "#cbede0", C_TAU],
    ["Random", null, C_RAND],
  ];
  dLeg.forEach((l: any, i) => {
    const cy = 337.3 + i * 13.8;
    if (l[1]) R(641, cy - 6, 13, 12, l[1]);
    Ln(641, cy, 654, cy, l[2], 1.2);
    T(658, cy, l[0], { size: 9 });
  });

  /* ================= panel e ================= */
  const eTop = [
    { left: 37, width: 123, min: 0.644, max: 1.767, showY: true },
    { left: 172, width: 118, min: 0.642, max: 1.755, showY: false },
    { left: 307, width: 118, min: 0.653, max: 1.73, showY: false },
  ];
  const estFmt = (v: number) => {
    const p = Math.round(v);
    return p >= 0 ? String(10 ** p) : (10 ** p).toFixed(-p);
  };
  const ageFmt = (v: number) => String(Math.round(10 ** v));
  const eTopGi = eTop.map((e) => {
    const gi = addGrid(e.left, 466, e.width, 69);
    xAxis.push(valAxis(gi, e.min, e.max, eAgeLabels.map(L), ageFmt, { margin: 4 }));
    const ya: any = valAxis(gi, -2.28, 2.09, eEstTicks.map(L), estFmt, { margin: 4 });
    if (!e.showY) { ya.axisLine.show = false; ya.axisTick.show = false; ya.axisLabel.show = false; }
    yAxis.push(ya);
    return gi;
  });
  const ll = (pts: number[][]) => pts.map((p) => [L(p[0]), L(p[1])]);
  const eSets = [
    [eLambdaAges, eLambdaFit, eLambdaLo, eLambdaHi, ePtsLambda, "#eddc2a", "rgba(238,222,60,0.6)"],
    [eBetaAges, eBetaFit, eBetaLo, eBetaHi, ePtsBeta, "#22a676", "rgba(34,166,118,0.55)"],
    [eTauAges, eTauFit, eTauLo, eTauHi, ePtsTau, "#d63c56", "rgba(214,60,86,0.55)"],
  ];
  eSets.forEach((s: any, i) => {
    const gi = eTopGi[i];
    series.push(scatterS(gi, ll(s[4]), s[6], 2));
    series.push(bandS(gi, s[0].map(L), s[2].map(L), s[3].map(L), "rgba(170,170,170,0.5)"));
    series.push(lineS(gi, s[0].map((a: number, j: number) => [L(a), L(s[1][j])]), s[5], 1.8));
  });
  const eBot = [
    { left: 37, width: 108, min: 0.637, max: 1.75, ymin: -0.0035, ymax: 0.076, ticks: histLambdaTicks, fmt: (v: number) => (v === 0 ? "0" : v.toFixed(2)), ages: histLambdaAges, h: histLambda, color: "#d8c431" },
    { left: 180, width: 107, min: 0.669, max: 1.739, ymin: -0.0075, ymax: 0.1617, ticks: histBetaTicks, fmt: (v: number) => (v === 0 ? "0" : v.toFixed(2)), ages: histBetaAges, h: histBeta, color: "#1f9e74" },
    { left: 316, width: 108, min: 0.668, max: 1.79, ymin: -0.015, ymax: 0.32, ticks: histTauTicks, fmt: (v: number) => (v === 0 ? "0" : v.toFixed(1)), ages: histTauAges, h: histTau, color: "#c8344f" },
  ];
  eBot.forEach((e) => {
    const gi = addGrid(e.left, 559, e.width, 45);
    xAxis.push(valAxis(gi, e.min, e.max, eAgeLabels.map(L), ageFmt, { margin: 4 }));
    yAxis.push(valAxis(gi, e.ymin, e.ymax, e.ticks, e.fmt, { margin: 4 }));
    series.push(lineS(gi, histBaseAges.map((a) => [L(a), 0]), "#c8c8c8", 3, { z: 2 }));
    series.push(histS(gi, e.ages, e.h, e.color));
  });
  T(1, 452, "e", { bold: true, size: 13 });
  T(93, 461, "Generalization λ", { size: 9.5, align: "center" });
  T(228, 461, "Exploration β", { size: 9.5, align: "center" });
  T(360, 461, "Temperature τ", { size: 9.5, align: "center" });
  T(8, 505, "Estimate", { size: 9, rot: Math.PI / 2, align: "center" });
  T(8, 590, "ω", { size: 9.5, rot: Math.PI / 2, align: "center" });
  T(233, 627, "Age (years) (logscale)", { size: 9.5, align: "center" });

  /* ================= panel f ================= */
  const fGi = addGrid(488, 458, 190, 133);
  const catAxis = (gi: number, rotate: number, size: number, margin: number) => ({
    type: "category", gridIndex: gi, data: ageGroups,
    axisLine: { show: true, onZero: false, lineStyle: { color: "#999", width: 0.8 } },
    axisTick: { show: true, alignWithLabel: true, length: 3, lineStyle: { color: "#999", width: 0.8 } },
    axisLabel: { fontSize: size, color: "#444", fontFamily: FONT, rotate, margin, interval: 0 },
    splitLine: { show: false },
  });
  xAxis.push(catAxis(fGi, 45, 7.5, 4));
  yAxis.push(catAxis(fGi, 0, 7.5, 4));
  const fCells: number[][] = [];
  fRows.forEach((r, j) => r.forEach((v, k) => fCells.push([j + k, j, v])));
  const vm2Series = [series.length];
  series.push(hm(fGi, fCells, { itemStyle: { borderWidth: 0 } }));

  const iGi = addGrid(516, 455, 80, 37);
  xAxis.push(catAxis(iGi, 45, 5.5, 2));
  yAxis.push(valAxis(iGi, 0.36, 0.78, fInsetTicks, (v: number) => v.toFixed(1), { fontSize: 5.5, margin: 2, lineColor: "#999" }));
  series.push({
    type: "custom", xAxisIndex: iGi, yAxisIndex: iGi, silent: true, z: 4,
    data: fDiag.map((v, i) => [i, v - fDiagSe[i], v + fDiagSe[i]]),
    renderItem: (params: any, api: any) => {
      const a = api.coord([api.value(0), api.value(1)]);
      const b = api.coord([api.value(0), api.value(2)]);
      return { type: "line", shape: { x1: a[0], y1: a[1], x2: b[0], y2: b[1] }, style: { stroke: "#111", lineWidth: 1 } };
    },
  });
  series.push(scatterS(iGi, fDiag.map((v, i) => [i, v]), "#111", 5, 5));

  T(449, 447, "f", { bold: true, size: 13 });
  T(448, 518, "Age group", { size: 9.5, rot: Math.PI / 2, align: "center" });
  T(587, 624, "Age group", { size: 9.5, align: "center" });
  T(521, 459, "Diagonals", { size: 7 });
  T(492, 474, "r", { size: 6, rot: Math.PI / 2, align: "center" });
  T(495, 471, "τ", { size: 4.5, rot: Math.PI / 2, align: "center" });
  R(692, 497, 14, 68, gradient(PLASMA));
  T(697, 487, "r", { size: 8.5, align: "center" });
  T(700.5, 490, "τ", { size: 5.5, align: "center" });
  fBarTicks.forEach((v) => T(712, 557 - (v - 0.3) * 137.5, v.toFixed(1), { size: 8, color: "#444" }));

  return {
    animation: false,
    backgroundColor: "#ffffff",
    textStyle: { fontFamily: FONT },
    grid,
    xAxis,
    yAxis,
    series,
    graphic: { elements: graphic },
    visualMap: [
      { type: "continuous", show: false, min: 0, max: 1, dimension: 2, seriesIndex: vm0Series, inRange: { color: SPECTRAL } },
      { type: "continuous", show: false, min: 0, max: 0.0347, dimension: 2, seriesIndex: vm1Series, inRange: { color: SPECTRAL } },
      { type: "continuous", show: false, min: 0.245, max: 0.736, dimension: 2, seriesIndex: vm2Series, inRange: { color: PLASMA } },
      { type: "continuous", show: false, min: 0, max: 1, dimension: 2, seriesIndex: bgSeries, inRange: { color: ["#ffffff", "#ffffff"] } },
    ],
  };
}

export default function App() {
  const ref = useRef<HTMLDivElement>(null);
  useEffect(() => {
    document.body.style.margin = "0";
    const chart = echarts.init(ref.current as HTMLDivElement, null, { renderer: "svg", width: 722, height: 632 });
    chart.setOption(buildOption() as any);
    return () => chart.dispose();
  }, []);
  return (
    <div
      ref={ref}
      style={{ position: "absolute", left: 0, top: 0, width: 722, height: 632, background: "#fff" }}
    />
  );
}
